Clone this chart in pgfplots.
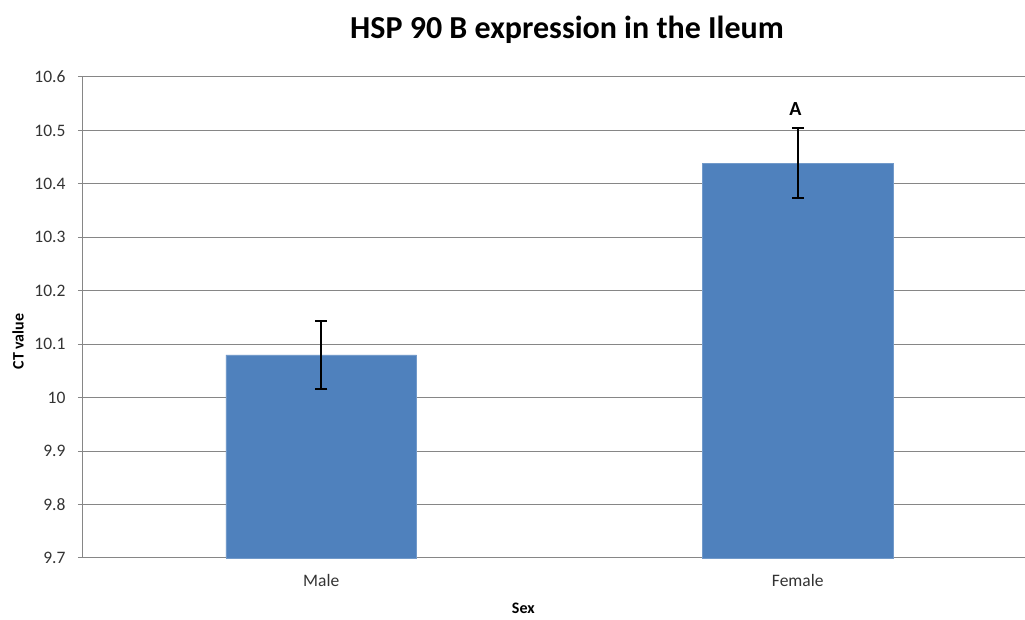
\documentclass[border=0pt]{standalone}
\usepackage{fontspec}
\setmainfont{Carlito}
\usepackage{pgfplots}
\pgfplotsset{compat=1.18}
\definecolor{barblue}{HTML}{4F81BD}
\definecolor{gridgray}{HTML}{868686}
\begin{document}
\begin{tikzpicture}
\useasboundingbox (-83pt,-62pt) rectangle (942pt,558pt);
\begin{axis}[
  at={(0pt,0pt)}, anchor=south west,
  scale only axis,
  width=953pt, height=481pt,
  xmin=-0.5, xmax=1.5,
  ymin=9.7, ymax=10.6,
  ytick={9.7,9.8,9.9,10,10.1,10.2,10.3,10.4,10.5,10.6},
  yticklabels={9.7,9.8,9.9,10,10.1,10.2,10.3,10.4,10.5,10.6},
  xtick={0,1}, xticklabels={Male,Female},
  axis x line=bottom, axis y line=left,
  axis line style={gridgray, line width=1pt, -},
  ymajorgrids, grid style={gridgray, line width=1pt},
  ytick style={gridgray, line width=1pt},
  xtick style={draw=none},
  tick align=outside, major tick length=5pt,
  yticklabel style={font=\fontsize{17.5}{20}\selectfont, text=black!80, xshift=-9pt},
  xticklabel style={font=\fontsize{17.5}{20}\selectfont, text=black!80, yshift=-8pt},
  /pgf/number format/assume math mode=true,
  ylabel={\textbf{CT value}},
  xlabel={\textbf{Sex}},
  every axis y label/.style={at={(axis description cs:-0.0682,0.45)}, rotate=90, anchor=center, font=\fontsize{16}{18}\selectfont},
  every axis x label/.style={at={(axis description cs:0.462,0)}, yshift=-50pt, anchor=center, font=\fontsize{16}{18}\selectfont},
  clip=false,
]
\addplot[ybar, bar width=0.4, fill=barblue, draw=barblue!80!white, bar shift=0pt,
  error bars/.cd, y dir=both, y explicit,
  error bar style={black, line width=2pt},
  error mark options={rotate=90, black, line width=2pt, mark size=6pt}]
  coordinates {(0,10.08) +- (0,0.063) (1,10.439) +- (0,0.065)};
\node[font=\bfseries\fontsize{20}{24}\selectfont] at (axis cs:0.995,10.541) {A};
\end{axis}
\node[font=\bfseries\fontsize{32}{36}\selectfont, anchor=center] at (484pt,528pt) {HSP 90 B expression in the Ileum};
\end{tikzpicture}
\end{document}
